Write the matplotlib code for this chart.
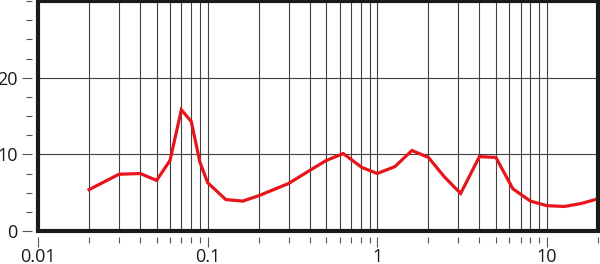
import matplotlib
matplotlib.use("Agg")
import matplotlib.pyplot as plt
from matplotlib.ticker import FixedLocator, NullFormatter, FixedFormatter
from matplotlib.patches import Rectangle

x_vals = [0.02, 0.03, 0.04, 0.05, 0.06, 0.07, 0.08, 0.09, 0.1, 0.128, 0.161, 0.2, 0.3, 0.4, 0.5,
          0.63, 0.81, 1.0, 1.27, 1.6, 2.0, 2.5, 3.1, 4.0, 5.0, 6.3, 8.0, 10.0, 12.7, 16.0, 20.0]
y_vals = [5.4, 7.4, 7.5, 6.6, 9.2, 15.8, 14.3, 9.0, 6.3, 4.1, 3.9, 4.6, 6.2, 7.9, 9.2,
          10.1, 8.3, 7.5, 8.4, 10.5, 9.6, 7.0, 4.9, 9.7, 9.6, 5.5, 3.9, 3.3, 3.2, 3.6, 4.2]
x_tick_labels = ["0.01", "0.1", "1", "10"]
x_major = [0.01, 0.1, 1, 10]
y_tick_labels = ["0", "10", "20"]
y_major = [0, 10, 20]

plt.rcParams['font.family'] = ['Open Sans', 'DejaVu Sans']

fig = plt.figure(figsize=(6.0, 2.64), dpi=100)
ax = fig.add_axes([38/600, (264-231)/264, (598-38)/600, (231-1)/264])
ax.set_xscale('log')
ax.set_xlim(0.01, 20)
ax.set_ylim(0, 30)

minor_x = [m * d for d in (0.01, 0.1, 1, 10) for m in range(2, 10) if m * d <= 20.01]
ax.xaxis.set_major_locator(FixedLocator(x_major))
ax.xaxis.set_major_formatter(FixedFormatter(x_tick_labels))
ax.xaxis.set_minor_locator(FixedLocator(minor_x))
ax.xaxis.set_minor_formatter(NullFormatter())
ax.yaxis.set_major_locator(FixedLocator(y_major))
ax.yaxis.set_major_formatter(FixedFormatter(y_tick_labels))
ax.yaxis.set_minor_locator(FixedLocator([2.5, 5, 7.5, 12.5, 15, 17.5, 22.5, 25, 27.5, 30]))

for v in minor_x + [0.1, 1, 10]:
    ax.axvline(v, color='#404040', lw=0.8, zorder=1)
for v in [10, 20]:
    ax.axhline(v, color='#404040', lw=0.8, zorder=1)

ax.plot(x_vals, y_vals, color='#e8141b', lw=2.3, zorder=3, solid_joinstyle='miter')

for s in ax.spines.values():
    s.set_visible(False)
ax.spines['left'].set_position(('outward', 4))
ax.spines['bottom'].set_position(('outward', 4))
ax.add_patch(Rectangle((0, 0), 1, 1, transform=ax.transAxes, fill=False,
                       edgecolor='#1a1a1a', lw=3, clip_on=False, zorder=5))

ax.tick_params(axis='both', which='major', direction='out', length=7, width=0.8,
               color='#555555', labelsize=13, labelcolor='#1a1a1a')
ax.tick_params(axis='both', which='minor', direction='out', length=4, width=0.8,
               color='#555555')
ax.tick_params(axis='y', which='major', pad=3.5)
ax.tick_params(axis='x', which='major', pad=1.5)

fig.savefig('out.png', dpi=100)
